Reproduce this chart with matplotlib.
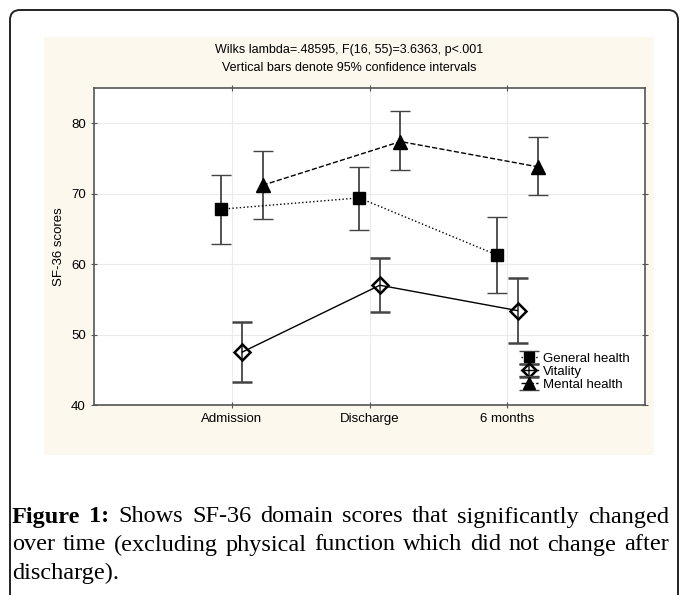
import matplotlib
matplotlib.use('Agg')
import matplotlib.pyplot as plt
from matplotlib.patches import FancyBboxPatch, Rectangle
from matplotlib.transforms import IdentityTransform
import numpy as np

# data
timepoints = ['Admission', 'Discharge', '6 months']
series = ['General health', 'Vitality', 'Mental health']
means = {
    'General health': [67.8, 69.4, 61.3],
    'Vitality': [47.5, 57.0, 53.4],
    'Mental health': [71.2, 77.4, 73.8],
}
ci_low = {
    'General health': [62.8, 64.9, 55.9],
    'Vitality': [43.2, 53.2, 48.8],
    'Mental health': [66.4, 73.3, 69.8],
}
ci_high = {
    'General health': [72.6, 73.8, 66.7],
    'Vitality': [51.8, 60.8, 58.0],
    'Mental health': [76.1, 81.7, 78.0],
}
offsets = {'General health': -0.075, 'Vitality': 0.075, 'Mental health': 0.225}
styles = {
    'General health': dict(marker='s', ls=':', mfc='black', ms=9),
    'Vitality': dict(marker='D', ls='-', mfc='none', ms=8.5, mew=1.8),
    'Mental health': dict(marker='^', ls='--', mfc='black', ms=10),
}

title_lines = ['Wilks lambda=.48595, F(16, 55)=3.6363, p<.001',
               'Vertical bars denote 95% confidence intervals']
caption_lines = [
    'Figure 1: Shows SF-36 domain scores that significantly changed',
    'over time (excluding physical function which did not change after',
    'discharge).',
]
n_bold = 2  # "Figure 1:" is bold

W, H = 681, 595
fig = plt.figure(figsize=(W / 100, H / 100), dpi=100)
fig.patch.set_facecolor('white')

def fx(x):
    return x / W

def fy(y):
    return 1 - y / H

# outer rounded frame (pixel coords) and cream panel
frame = FancyBboxPatch((10, -20), 668, H - 10 + 20,
                       boxstyle='round,pad=0,rounding_size=10',
                       transform=IdentityTransform(), fill=False,
                       ec='#222222', lw=1.4, zorder=-2)
fig.add_artist(frame)
panel = Rectangle((fx(44), fy(455)), fx(610), (455 - 37) / H,
                  transform=fig.transFigure, fc='#fcf8ee', ec='none', zorder=-1)
fig.add_artist(panel)

ax = fig.add_axes([fx(94), fy(405), fx(551), (405 - 88) / H])
ax.set_zorder(2)
ax.set_facecolor('white')

x = np.arange(1, len(timepoints) + 1)
for name in series:
    m = np.array(means[name])
    lo = np.array(ci_low[name])
    hi = np.array(ci_high[name])
    st = styles[name]
    ax.errorbar(x + offsets[name], m, yerr=[m - lo, hi - m],
                color='black', ecolor='#444444', elinewidth=1.3,
                capsize=7, capthick=1.2, lw=1.0, marker=st['marker'],
                ls=st['ls'], mfc=st['mfc'], mec='black', ms=st['ms'],
                mew=st.get('mew', 1.0), label=name, zorder=3)

ax.set_xlim(0, 4)
ax.set_ylim(40, 85)
ax.set_xticks(x)
ax.set_xticklabels(timepoints)
ax.set_yticks([40, 50, 60, 70, 80])
ax.grid(True, color='#ebebeb', lw=0.8)
ax.set_axisbelow(True)
for s in ax.spines.values():
    s.set_color('#555555')
    s.set_linewidth(1.2)
ax.tick_params(axis='both', direction='inout', length=4, color='#555555',
               labelsize=9.5, top=True, right=True, pad=4)
for lab in ax.get_xticklabels() + ax.get_yticklabels():
    lab.set_fontfamily('Liberation Sans')
ax.set_ylabel('SF-36 scores', fontsize=9.5, family='Liberation Sans', labelpad=4)

leg = ax.legend(loc='upper left', bbox_to_anchor=(fx(514), fy(346)),
                bbox_transform=fig.transFigure, frameon=False, markerscale=0.8,
                handlelength=1.3, handletextpad=0.4, labelspacing=0.05,
                borderpad=0, prop={'family': 'Liberation Sans', 'size': 9.5})

for i, t in enumerate(title_lines):
    fig.text(fx(349), fy(50 + 18 * i), t, ha='center', va='center',
             fontsize=9, family='Liberation Sans')

# justified caption
fig.canvas.draw()
r = fig.canvas.get_renderer()
cap_font = dict(family='Liberation Serif', fontsize=17.5)
left, right = 12, 669

def width_of(w, bold):
    t = fig.text(0, 0, w, fontweight='bold' if bold else 'normal', **cap_font)
    wd = t.get_window_extent(r).width
    t.remove()
    return wd

space = width_of('a b', False) - width_of('ab', False)
k = 0
for li, line in enumerate(caption_lines):
    y = 517 + 28 * li
    items = []
    for w in line.split():
        b = k < n_bold
        items.append((w, b, width_of(w, b)))
        k += 1
    total = sum(wd for _, _, wd in items)
    if li < len(caption_lines) - 1 and len(items) > 1:
        gap = (right - left - total) / (len(items) - 1)
    else:
        gap = space
    xp = left
    for w, b, wd in items:
        fig.text(fx(xp), fy(y), w, ha='left', va='center',
                 fontweight='bold' if b else 'normal', **cap_font)
        xp += wd + gap

fig.savefig('out.png', dpi=100)
